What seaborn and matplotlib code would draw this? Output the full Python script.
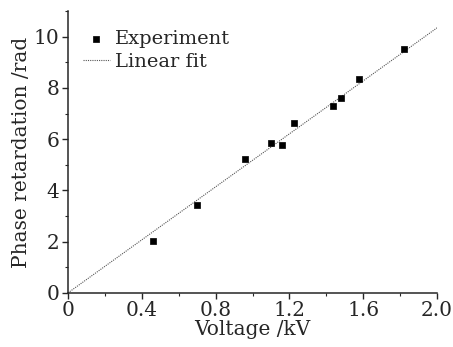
import numpy as np
import pandas as pd
import matplotlib
matplotlib.use("Agg")
import matplotlib.pyplot as plt
import seaborn as sns
from matplotlib.ticker import MultipleLocator

voltage = [0.459, 0.699, 0.959, 1.100, 1.158, 1.227, 1.438, 1.478, 1.577, 1.818]
phase = [2.03, 3.42, 5.24, 5.86, 5.79, 6.62, 7.31, 7.59, 8.35, 9.51]

# linear fit through the origin (end points)
fit_voltage = [0.0, 2.0]
fit_phase = [0.0, 10.35]

sns.set_style("ticks")
plt.rcParams['font.family'] = ['DejaVu Serif']
plt.rcParams['mathtext.fontset'] = 'dejavuserif'

df = pd.DataFrame({'Voltage': voltage, 'Phase': phase})
fit_df = pd.DataFrame({'Voltage': fit_voltage, 'Phase': fit_phase})

fig = plt.figure(figsize=(4.53, 3.47), dpi=100)
ax = fig.add_axes([0.150, 0.156, 0.815, 0.812])

sns.scatterplot(data=df, x='Voltage', y='Phase', marker='s', s=22,
                color='black', edgecolor='black', linewidth=0.5,
                label='Experiment', ax=ax, zorder=3)
sns.lineplot(data=fit_df, x='Voltage', y='Phase', color='#555555',
             linewidth=0.8, linestyle=(0, (1, 1)), label='Linear fit', ax=ax)

ax.set_xlim(0, 2.0)
ax.set_ylim(0, 11)
ax.xaxis.set_minor_locator(MultipleLocator(0.2))
ax.yaxis.set_major_locator(MultipleLocator(2))
ax.yaxis.set_minor_locator(MultipleLocator(1))
ax.set_xticks([0, 0.4, 0.8, 1.2, 1.6, 2.0])
ax.set_xticklabels(['0', '0.4', '0.8', '1.2', '1.6', '2.0'])
ax.tick_params(which='major', length=4, width=1, labelsize=14.5, pad=2)
ax.tick_params(which='minor', length=2.5, width=0.8)

sns.despine(ax=ax)
for sp in ['left', 'bottom']:
    ax.spines[sp].set_linewidth(1.1)

ax.set_xlabel('Voltage /kV', fontsize=14.5, labelpad=0)
ax.set_ylabel('Phase retardation /rad', fontsize=14.5, labelpad=2)

leg = ax.legend(loc='upper left', bbox_to_anchor=(0.04, 0.932), frameon=False,
                fontsize=14, handlelength=1.4, handletextpad=0.25,
                borderaxespad=0, borderpad=0, labelspacing=0.25)

fig.savefig('out.png', dpi=100)
